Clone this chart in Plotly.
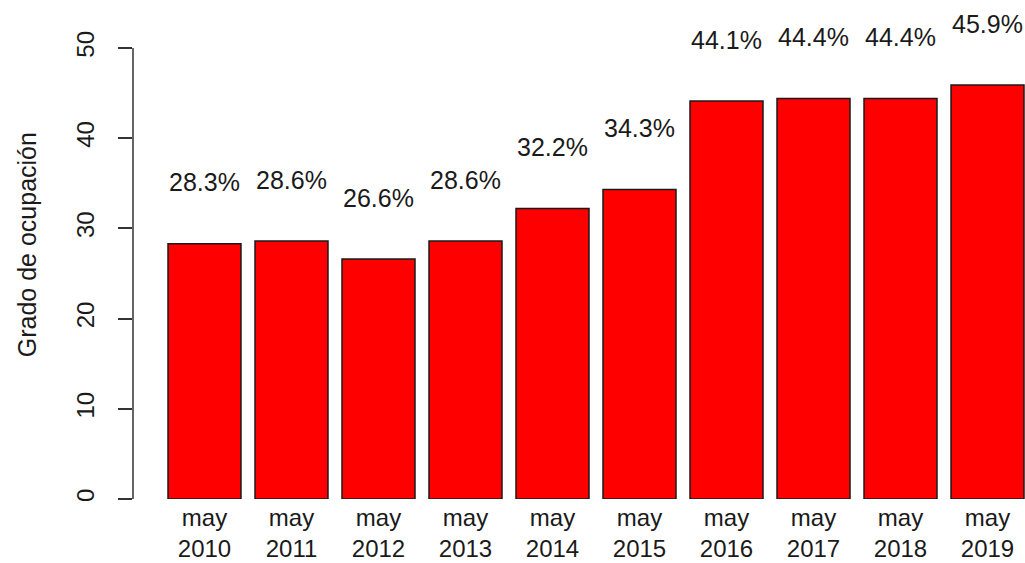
import plotly.graph_objects as go

months = ["may", "may", "may", "may", "may", "may", "may", "may", "may", "may"]
years = ["2010", "2011", "2012", "2013", "2014", "2015", "2016", "2017", "2018", "2019"]
occupancy = [28.3, 28.6, 26.6, 28.6, 32.2, 34.3, 44.1, 44.4, 44.4, 45.9]
y_ticks = [0, 10, 20, 30, 40, 50]

FONT = "Liberation Sans, Arial, sans-serif"
positions = list(range(len(years)))
tick_text = [f"{m}<br>{y}" for m, y in zip(months, years)]

fig = go.Figure()
fig.add_trace(go.Bar(
    x=positions,
    y=occupancy,
    width=0.839,
    marker=dict(color="#FF0000", line=dict(color="#1a1a1a", width=1.5)),
    hoverinfo="skip",
))

label_offset = 6.8
for p, v in zip(positions, occupancy):
    fig.add_annotation(
        x=p, y=v + label_offset, xref="x", yref="y",
        text=f"{v:.1f}%", showarrow=False,
        font=dict(family=FONT, size=25, color="#1a1a1a"),
        xanchor="center", yanchor="middle",
    )

# y axis line spanning only 0..50 as in the original
fig.add_shape(type="line", xref="paper", yref="y", x0=0, x1=0,
              y0=y_ticks[0], y1=y_ticks[-1],
              line=dict(color="#333333", width=1.5))

fig.add_annotation(
    x=-0.1188, y=0.519, xref="paper", yref="paper",
    text="Grado de ocupación", textangle=-90, showarrow=False,
    font=dict(family=FONT, size=25, color="#1a1a1a"),
    xanchor="center", yanchor="middle",
)

fig.update_layout(
    width=1025, height=563,
    margin=dict(l=133, r=0, t=10, b=64),
    paper_bgcolor="white", plot_bgcolor="white",
    showlegend=False,
    font=dict(family=FONT, size=24, color="#1a1a1a"),
    xaxis=dict(
        range=[-0.8218, 9.431],
        tickvals=positions, ticktext=tick_text,
        showgrid=False, zeroline=False, showline=False, ticks="",
        ticklabelstandoff=2,
        tickfont=dict(family=FONT, size=24, color="#1a1a1a"),
    ),
    yaxis=dict(
        range=[0, 54.2],
        tickvals=y_ticks, ticktext=[str(t) for t in y_ticks],
        tickangle=-90,
        showgrid=False, zeroline=False, showline=False,
        ticks="outside", ticklen=14, tickwidth=1.5, tickcolor="#333333",
        ticklabelstandoff=14,
        tickfont=dict(family=FONT, size=24, color="#1a1a1a"),
    ),
)

fig.write_html(
    "out.html",
    config={"displayModeBar": False},
    post_script="document.body.style.margin='0';document.body.style.overflow='hidden';",
)
